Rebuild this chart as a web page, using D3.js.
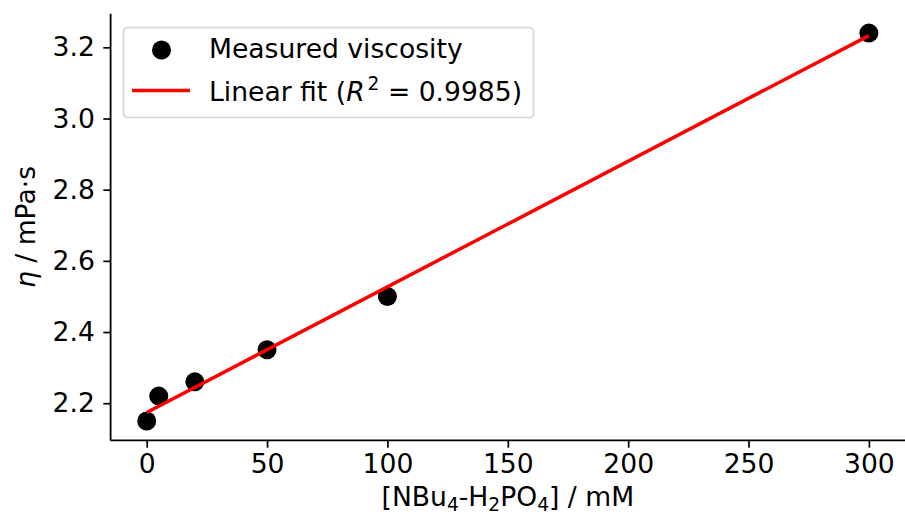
<!DOCTYPE html>
<html>
<head>
<meta charset="utf-8">
<script src="https://cdn.jsdelivr.net/npm/d3@7"></script>
<style>
  html, body { margin: 0; padding: 0; background: #fff; }
  text { font-family: "DejaVu Sans", sans-serif; fill: #000; }
</style>
</head>
<body>
<svg id="chart" width="905" height="524"></svg>
<script>
// ---- data ----
const concentrations = [0, 5, 20, 50, 100, 300];           // mM
const viscosities    = [2.15, 2.22, 2.26, 2.35, 2.50, 3.24]; // mPa·s
const fitX = [0, 300];
const fitY = [2.174, 3.233];
const xTicks = [0, 50, 100, 150, 200, 250, 300];
const yTicks = [2.2, 2.4, 2.6, 2.8, 3.0, 3.2];
const legendLabels = ["Measured viscosity", "Linear fit"];
const r2Text = "0.9985";

const W = 905, H = 524;
const margin = { left: 110.6, right: 0, top: 13.7, bottom: 83.6 };
const FS = 26.6;

const svg = d3.select("#chart");

const x = d3.scaleLinear().domain([-15, 315]).range([margin.left, W - margin.right]);
const yMin = d3.min(viscosities), yMax = d3.max(viscosities);
const pad = (yMax - yMin) * 0.05;
const y = d3.scaleLinear().domain([yMin - pad, yMax + pad]).range([H - margin.bottom, margin.top]);

// points
svg.append("g").selectAll("circle")
  .data(d3.zip(concentrations, viscosities))
  .join("circle")
  .attr("cx", d => x(d[0]))
  .attr("cy", d => y(d[1]))
  .attr("r", 9.5)
  .attr("fill", "#000");

// fit line (on top)
const line = d3.line().x(d => x(d[0])).y(d => y(d[1]));
svg.append("path")
  .datum(d3.zip(fitX, fitY))
  .attr("d", line)
  .attr("fill", "none")
  .attr("stroke", "#ff0000")
  .attr("stroke-width", 3.5);

// axes
const xAxis = d3.axisBottom(x).tickValues(xTicks).tickSize(7.3).tickPadding(6).tickFormat(d3.format("d"));
const gx = svg.append("g").attr("transform", `translate(0,${H - margin.bottom})`).call(xAxis);
gx.select(".domain").attr("stroke-width", 1.8).attr("d", `M${margin.left},0H${W}`);
gx.selectAll(".tick line").attr("stroke-width", 1.7);
gx.selectAll(".tick text").attr("font-size", FS).attr("font-family", "DejaVu Sans");

const yAxis = d3.axisLeft(y).tickValues(yTicks).tickSize(7.3).tickPadding(8.5).tickFormat(d3.format(".1f"));
const gy = svg.append("g").attr("transform", `translate(${margin.left},0)`).call(yAxis);
gy.select(".domain").attr("stroke-width", 1.8).attr("d", `M0,${margin.top}V${H - margin.bottom}`);
gy.selectAll(".tick line").attr("stroke-width", 1.7);
gy.selectAll(".tick text").attr("font-size", FS).attr("font-family", "DejaVu Sans");

// x label
const xl = svg.append("text")
  .attr("x", (margin.left + W) / 2)
  .attr("y", 506)
  .attr("text-anchor", "middle")
  .attr("font-size", FS);
xl.append("tspan").text("[NBu");
xl.append("tspan").text("4").attr("font-size", FS * 0.7).attr("dy", 5);
xl.append("tspan").text("-H").attr("dy", -5);
xl.append("tspan").text("2").attr("font-size", FS * 0.7).attr("dy", 5);
xl.append("tspan").text("PO").attr("dy", -5);
xl.append("tspan").text("4").attr("font-size", FS * 0.7).attr("dy", 5);
xl.append("tspan").text("] / mM").attr("dy", -5);

// y label
const yl = svg.append("text")
  .attr("transform", `translate(35,${(margin.top + H - margin.bottom) / 2}) rotate(-90)`)
  .attr("text-anchor", "middle")
  .attr("font-size", FS);
yl.append("tspan").text("η").attr("font-style", "italic");
yl.append("tspan").text(" / mPa·s");

// legend
const lg = svg.append("g");
lg.append("rect")
  .attr("x", 123.5).attr("y", 27.5)
  .attr("width", 410).attr("height", 90)
  .attr("rx", 4).attr("ry", 4)
  .attr("fill", "#fff").attr("fill-opacity", 0.8)
  .attr("stroke", "#d6d6d6").attr("stroke-width", 1.7);
lg.append("circle").attr("cx", 161.5).attr("cy", 50).attr("r", 9.5).attr("fill", "#000");
lg.append("line").attr("x1", 132).attr("x2", 190).attr("y1", 90.5).attr("y2", 90.5)
  .attr("stroke", "#ff0000").attr("stroke-width", 3.5);
lg.append("text").attr("x", 209).attr("y", 58).attr("font-size", FS).text(legendLabels[0]);
const t2 = lg.append("text").attr("x", 209).attr("y", 101).attr("font-size", FS);
t2.append("tspan").text(legendLabels[1] + " (");
t2.append("tspan").text("R").attr("font-style", "italic");
t2.append("tspan").text("2").attr("font-size", FS * 0.7).attr("dy", -11).attr("dx", 3);
t2.append("tspan").text(" = " + r2Text + ")").attr("dy", 11);
</script>
</body>
</html>
